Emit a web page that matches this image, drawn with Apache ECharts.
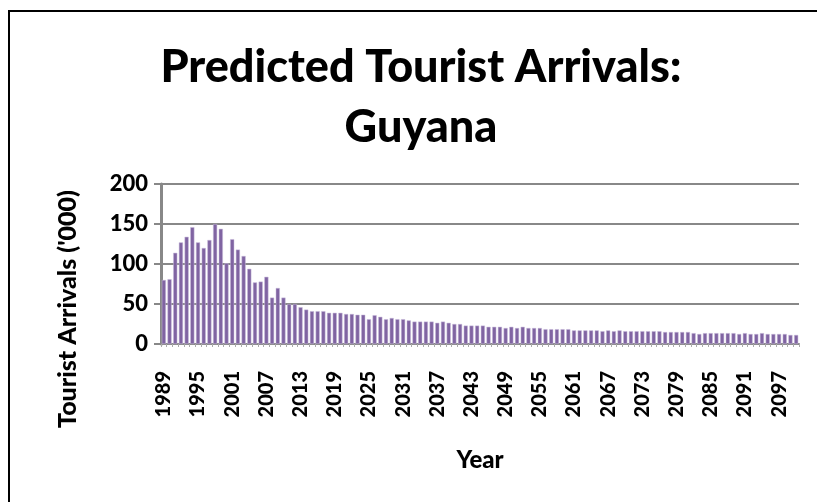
<!DOCTYPE html>
<html>
<head>
<meta charset="utf-8">
<script src="https://cdn.jsdelivr.net/npm/echarts@6/dist/echarts.min.js"></script>
<style>
html,body{margin:0;padding:0;background:#fff;}
#chart{width:817px;height:502px;}
</style>
</head>
<body>
<div id="chart"></div>
<script>
const startYear = 1989;
const arrivals = [
  80, 81, 114, 127, 134, 146, 127, 120, 130, 150, 144, 101, 131, 118, 110, 94, 77, 78, 84, 58,
  70, 58, 50, 50, 46, 43, 41, 41, 41,
  39, 39, 39, 37.5, 37.5, 36.6, 36.6, 31, 36, 34, 31, 32.5, 31, 31, 29.5, 28, 28, 28, 28, 26.5, 28,
  26.5, 25, 25, 23, 23, 23, 23, 21.5, 21.5, 21.5, 20, 21.5, 20, 21.5, 20, 20, 20, 18.5, 18.5, 18.5,
  18.5, 18.5, 17, 17,
  17, 17, 17, 16, 17, 16, 17, 16, 16, 16, 16, 16, 16, 16, 15, 15, 15, 15, 15, 13.6, 12.5,
  13.6, 13.6, 13.6, 13.6, 13.6, 13.6, 12.5, 13.6, 12.5, 12.5, 13.6, 12.5, 12.5, 12.5, 12.5, 11.3, 11.3
];
const years = arrivals.map((_, i) => String(startYear + i));
const yTicks = [0, 50, 100, 150, 200];

const font = 'Lato, "Open Sans", sans-serif';
const chart = echarts.init(document.getElementById('chart'));
chart.setOption({
  animation: false,
  title: {
    text: 'Predicted Tourist Arrivals:\nGuyana',
    left: 416,
    textAlign: 'center',
    top: 32,
    textStyle: { fontFamily: font, fontWeight: 900, fontSize: 45, lineHeight: 60, color: '#000' }
  },
  graphic: [{
    type: 'rect',
    shape: { x: 9, y: 11, width: 900, height: 600 },
    style: { fill: 'none', stroke: '#000', lineWidth: 2 },
    silent: true
  }],
  grid: { left: 161, right: 18, top: 184, bottom: 158 },
  xAxis: {
    type: 'category',
    data: years,
    name: 'Year',
    nameLocation: 'middle',
    nameGap: 104,
    nameTextStyle: { fontFamily: font, fontWeight: 900, fontSize: 24, color: '#000' },
    axisLine: { lineStyle: { color: '#888', width: 2 } },
    axisTick: { show: true, interval: 0, length: 3, lineStyle: { color: '#aaa' } },
    axisLabel: {
      interval: 5, rotate: 90, margin: 27,
      fontFamily: font, fontWeight: 900, fontSize: 20, color: '#000'
    }
  },
  yAxis: {
    type: 'value',
    min: yTicks[0], max: yTicks[yTicks.length - 1], interval: 50,
    name: "Tourist Arrivals ('000)",
    nameLocation: 'middle',
    nameRotate: 90,
    nameGap: 81,
    nameTextStyle: { fontFamily: font, fontWeight: 900, fontSize: 25, color: '#000', padding: [0, 90, 0, 0] },
    axisLine: { show: true, lineStyle: { color: '#888', width: 3 } },
    axisTick: { show: true, length: 7, lineStyle: { color: '#888', width: 2 } },
    splitLine: { lineStyle: { color: '#888', width: 2 } },
    axisLabel: { margin: 13, fontFamily: font, fontWeight: 900, fontSize: 22, color: '#000' }
  },
  series: [{
    type: 'bar',
    data: arrivals,
    barCategoryGap: '28%',
    itemStyle: { color: '#8064A2', borderColor: '#c9bcdc', borderWidth: 0.5 }
  }]
});
</script>
</body>
</html>
